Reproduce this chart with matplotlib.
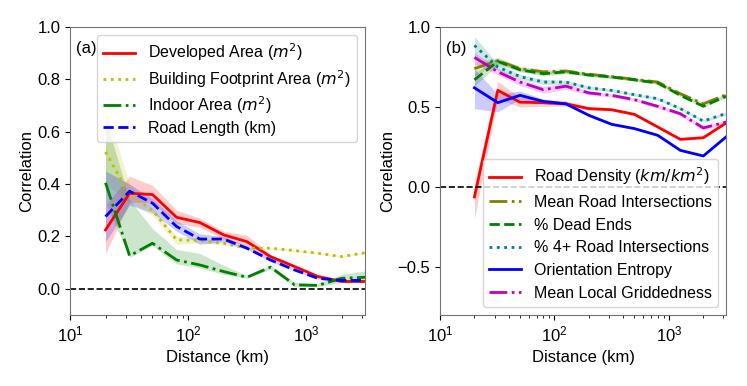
import numpy as np
import matplotlib
matplotlib.use("Agg")
import matplotlib.pyplot as plt

plt.rcParams['font.family'] = ['Liberation Sans', 'DejaVu Sans']
plt.rcParams['font.size'] = 12

# ------------------------------------------------------------
# data
# ------------------------------------------------------------
distance = [20, 32, 50, 80, 126, 200, 316, 500, 800, 1260, 2000, 3162]

# panel (a)
developed    = [0.225, 0.365, 0.36, 0.273, 0.253, 0.206, 0.18, 0.123, 0.085, 0.047, 0.028, 0.028]
developed_lo = [0.135, 0.33, 0.33, 0.25, 0.235, 0.19, 0.165, 0.115, 0.08, 0.043, 0.025, 0.025]
developed_hi = [0.32, 0.43, 0.395, 0.30, 0.27, 0.22, 0.205, 0.13, 0.09, 0.05, 0.032, 0.032]

footprint    = [0.523, 0.358, 0.30, 0.187, 0.184, 0.174, 0.155, 0.155, 0.146, 0.136, 0.123, 0.138]
footprint_lo = [0.40, 0.33, 0.28, 0.17, 0.175, 0.168, 0.15, 0.152, 0.143, 0.133, 0.12, 0.135]
footprint_hi = [0.69, 0.40, 0.31, 0.20, 0.195, 0.18, 0.16, 0.158, 0.15, 0.14, 0.126, 0.141]

indoor    = [0.405, 0.126, 0.174, 0.11, 0.091, 0.066, 0.044, 0.083, 0.015, 0.013, 0.04, 0.044]
indoor_lo = [0.33, 0.12, 0.165, 0.095, 0.08, 0.055, 0.04, 0.075, 0.008, 0.008, 0.025, 0.025]
indoor_hi = [0.65, 0.34, 0.23, 0.15, 0.135, 0.09, 0.05, 0.09, 0.025, 0.02, 0.055, 0.068]

road_len    = [0.276, 0.373, 0.327, 0.238, 0.19, 0.19, 0.155, 0.11, 0.072, 0.04, 0.032, 0.032]
road_len_lo = [0.18, 0.32, 0.29, 0.22, 0.17, 0.18, 0.15, 0.105, 0.068, 0.037, 0.03, 0.03]
road_len_hi = [0.45, 0.40, 0.345, 0.26, 0.21, 0.20, 0.165, 0.118, 0.077, 0.044, 0.035, 0.035]

# panel (b)
density    = [-0.062, 0.604, 0.53, 0.527, 0.52, 0.49, 0.483, 0.454, 0.375, 0.298, 0.308, 0.40]
density_lo = [-0.20, 0.55, 0.50, 0.505, 0.505, 0.48, 0.475, 0.447, 0.368, 0.292, 0.302, 0.395]
density_hi = [0.02, 0.66, 0.56, 0.545, 0.54, 0.50, 0.49, 0.46, 0.38, 0.305, 0.315, 0.405]

inters    = [0.74, 0.79, 0.74, 0.72, 0.725, 0.705, 0.69, 0.673, 0.656, 0.583, 0.52, 0.577]
inters_lo = [0.70, 0.77, 0.725, 0.705, 0.712, 0.695, 0.68, 0.664, 0.646, 0.574, 0.512, 0.569]
inters_hi = [0.78, 0.81, 0.755, 0.735, 0.738, 0.715, 0.70, 0.682, 0.666, 0.592, 0.528, 0.585]

dead    = [0.67, 0.785, 0.733, 0.708, 0.72, 0.70, 0.688, 0.67, 0.65, 0.573, 0.505, 0.567]
dead_lo = [0.63, 0.765, 0.72, 0.695, 0.708, 0.69, 0.678, 0.661, 0.641, 0.564, 0.497, 0.559]
dead_hi = [0.71, 0.805, 0.748, 0.722, 0.732, 0.71, 0.698, 0.679, 0.659, 0.582, 0.513, 0.575]

four    = [0.885, 0.75, 0.69, 0.656, 0.656, 0.62, 0.604, 0.577, 0.552, 0.49, 0.412, 0.46]
four_lo = [0.80, 0.73, 0.675, 0.64, 0.644, 0.61, 0.595, 0.568, 0.543, 0.481, 0.403, 0.451]
four_hi = [0.94, 0.77, 0.705, 0.672, 0.668, 0.63, 0.613, 0.586, 0.561, 0.499, 0.421, 0.469]

entropy    = [0.62, 0.527, 0.573, 0.535, 0.52, 0.448, 0.392, 0.365, 0.323, 0.229, 0.194, 0.313]
entropy_lo = [0.49, 0.47, 0.55, 0.52, 0.51, 0.44, 0.385, 0.36, 0.318, 0.225, 0.19, 0.31]
entropy_hi = [0.74, 0.58, 0.60, 0.55, 0.53, 0.455, 0.40, 0.37, 0.328, 0.233, 0.198, 0.317]

gridded    = [0.81, 0.72, 0.656, 0.608, 0.63, 0.588, 0.573, 0.546, 0.504, 0.458, 0.369, 0.406]
gridded_lo = [0.77, 0.70, 0.635, 0.585, 0.61, 0.575, 0.562, 0.535, 0.492, 0.445, 0.355, 0.395]
gridded_hi = [0.84, 0.74, 0.675, 0.63, 0.65, 0.60, 0.584, 0.557, 0.516, 0.47, 0.383, 0.417]

# ------------------------------------------------------------
# plotting
# ------------------------------------------------------------
fig = plt.figure(figsize=(7.47, 3.86), dpi=100)
ax1 = fig.add_axes([0.0937, 0.184, 0.395, 0.746])
ax2 = fig.add_axes([0.589, 0.184, 0.383, 0.746])


def draw(ax, y, lo, hi, color, ls, label):
    ax.plot(distance, y, color=color, linestyle=ls, linewidth=2, label=label)
    ax.fill_between(distance, lo, hi, color=color, alpha=0.2, linewidth=0)


draw(ax1, developed, developed_lo, developed_hi, 'r', '-', 'Developed Area ($m^2$)')
draw(ax1, footprint, footprint_lo, footprint_hi, 'y', ':', 'Building Footprint Area ($m^2$)')
draw(ax1, indoor, indoor_lo, indoor_hi, 'g', '-.', 'Indoor Area ($m^2$)')
draw(ax1, road_len, road_len_lo, road_len_hi, 'b', '--', 'Road Length (km)')

draw(ax2, density, density_lo, density_hi, 'r', '-', 'Road Density ($km/km^2$)')
draw(ax2, inters, inters_lo, inters_hi, 'olive', '-.', 'Mean Road Intersections')
draw(ax2, dead, dead_lo, dead_hi, 'g', '--', '% Dead Ends')
draw(ax2, four, four_lo, four_hi, 'teal', ':', '% 4+ Road Intersections')
draw(ax2, entropy, entropy_lo, entropy_hi, 'b', '-', 'Orientation Entropy')
draw(ax2, gridded, gridded_lo, gridded_hi, 'm', '-.', 'Mean Local Griddedness')

for ax, tag in [(ax1, '(a)'), (ax2, '(b)')]:
    ax.axhline(0, color='k', linestyle='--', linewidth=1.2)
    ax.set_xscale('log')
    ax.set_xlim(10, 3162)
    ax.set_xlabel('Distance (km)')
    ax.set_ylabel('Correlation', labelpad=2)
    ax.text(0.02, 0.925, tag, transform=ax.transAxes, fontsize=12, va='center')
    for sp in ax.spines.values():
        sp.set_color('0.45')

ax1.set_ylim(-0.1, 1.0)
ax1.set_yticks([0.0, 0.2, 0.4, 0.6, 0.8, 1.0])
ax2.set_ylim(-0.8, 1.0)
ax2.set_yticks([-0.5, 0.0, 0.5, 1.0])

ax1.legend(loc='upper right', fontsize=11.5, labelspacing=0.3)
ax2.legend(loc='lower right', fontsize=11.5, labelspacing=0.48)

fig.savefig('out.png', dpi=100)
